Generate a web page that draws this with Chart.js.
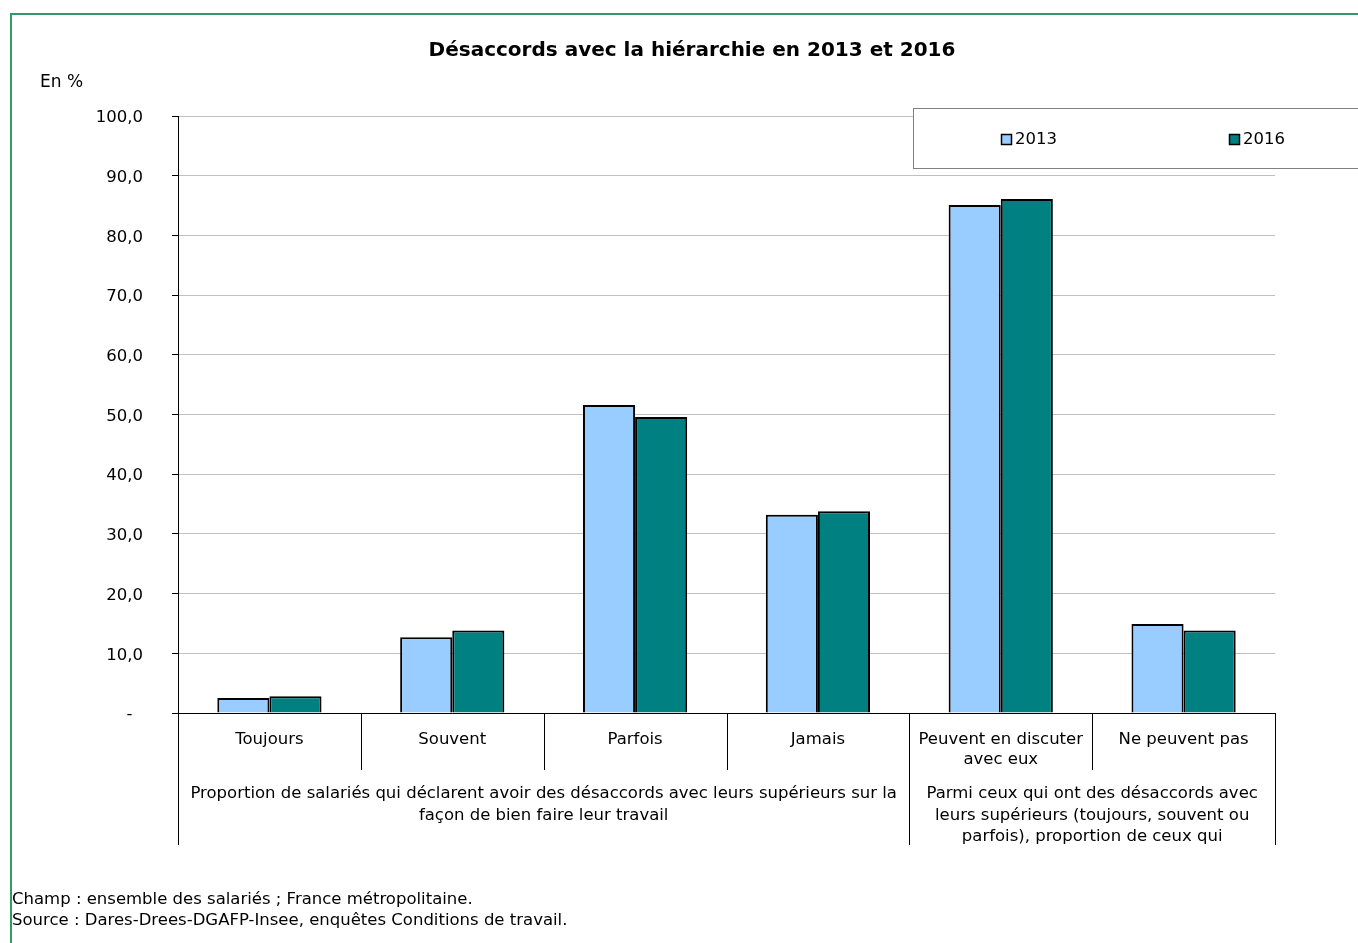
<!DOCTYPE html>
<html>
<head>
<meta charset="utf-8">
<script src="https://cdn.jsdelivr.net/npm/chart.js@4"></script>
<style>
body { margin: 0; background: #fff; }
#wrap { position: relative; width: 1358px; height: 943px; overflow: hidden; }
#frame { position: absolute; left: 10px; top: 13px; width: 1400px; height: 1000px; border: 2px solid #339966; }
canvas { position: absolute; left: 0; top: 0; }
.txt { position: absolute; font-family: "DejaVu Sans", sans-serif; color: #000; white-space: nowrap; }
</style>
</head>
<body>
<div id="wrap">
  <div id="frame"></div>
  <canvas id="chart" width="1358" height="943"></canvas>
  <div class="txt" style="left:0;width:1384px;top:36px;text-align:center;font-weight:bold;font-size:20px;line-height:26px;">Désaccords avec la hiérarchie en 2013 et 2016</div>
  <div class="txt" style="left:40px;top:70px;font-size:17px;line-height:22px;">En %</div>
  <div class="txt" style="left:12px;top:888px;font-size:16.5px;line-height:21px;">Champ : ensemble des salariés ; France métropolitaine.<br>Source : Dares-Drees-DGAFP-Insee, enquêtes Conditions de travail.</div>
</div>
<script>
//Categories and groups
const categories = ["Toujours", "Souvent", "Parfois", "Jamais", ["Peuvent en discuter", "avec eux"], "Ne peuvent pas"];
const groupLabels = [
    ["Proportion de salariés qui déclarent avoir des désaccords avec leurs supérieurs sur la", "façon de bien faire leur travail"],
    ["Parmi ceux qui ont des désaccords avec", "leurs supérieurs (toujours, souvent ou", "parfois), proportion de ceux qui"]
];
const groupSizes = [4, 2];

//Series values (en %)
const years = ["2013", "2016"];
const values2013 = [2.5, 12.7, 51.6, 33.2, 85.1, 14.9];
const values2016 = [2.8, 13.8, 49.6, 33.8, 86.1, 13.8];
const colors = ['#99ccff', '#008080'];

const font = "DejaVu Sans";
const fontSize = 16.5;

//Vertical separators under the axis + group labels
const groupPlugin = {
    id: 'groups',
    afterDraw(chart) {
        const x = chart.scales.x;
        const ctx = chart.ctx;
        const top = chart.chartArea.bottom;
        const half = (x.getPixelForValue(1) - x.getPixelForValue(0)) / 2;
        const bounds = [0];
        groupSizes.forEach(function (n) { bounds.push(bounds[bounds.length - 1] + n); });
        ctx.save();
        ctx.strokeStyle = '#000';
        ctx.lineWidth = 1;
        for (let i = 0; i <= categories.length; i++) {
            const px = Math.round(x.getPixelForValue(i) - half) + 0.5;
            const long = bounds.includes(i);
            ctx.beginPath();
            ctx.moveTo(px, top);
            ctx.lineTo(px, long ? top + 132 : top + 57);
            ctx.stroke();
        }
        ctx.fillStyle = '#000';
        ctx.font = fontSize + 'px "' + font + '"';
        ctx.textAlign = 'center';
        ctx.textBaseline = 'middle';
        groupLabels.forEach(function (lines, g) {
            const left = x.getPixelForValue(bounds[g]) - half;
            const right = x.getPixelForValue(bounds[g + 1]) - half;
            lines.forEach(function (line, j) {
                ctx.fillText(line, (left + right) / 2, top + 81 + j * 21.5);
            });
        });
        ctx.restore();
    }
};

//Boxed legend in the top right
const legendPlugin = {
    id: 'boxLegend',
    afterDraw(chart) {
        const ctx = chart.ctx;
        ctx.save();
        ctx.fillStyle = '#fff';
        ctx.strokeStyle = '#808080';
        ctx.lineWidth = 1;
        ctx.fillRect(913.5, 108.5, 500, 60);
        ctx.strokeRect(913.5, 108.5, 500, 60);
        const xs = [1001, 1229];
        ctx.font = fontSize + 'px "' + font + '"';
        ctx.textBaseline = 'middle';
        chart.data.datasets.forEach(function (ds, i) {
            ctx.fillStyle = ds.backgroundColor;
            ctx.fillRect(xs[i] + 0.5, 134.5, 10, 10);
            ctx.strokeStyle = '#000';
            ctx.lineWidth = 1.5;
            ctx.strokeRect(xs[i] + 0.5, 134.5, 10, 10);
            ctx.fillStyle = '#000';
            ctx.fillText(ds.label, xs[i] + 14, 140);
        });
        ctx.restore();
    }
};

const chart = new Chart(
    document.getElementById('chart'),
    {
        type: 'bar',
        data: {
            labels: categories,
            datasets: [{
                label: years[0],
                data: values2013,
                backgroundColor: colors[0],
                borderColor: '#000',
                borderWidth: 2,
            }, {
                label: years[1],
                data: values2016,
                backgroundColor: colors[1],
                borderColor: '#000',
                borderWidth: 2,
            }]
        },
        options: {
            responsive: false,
            animation: false,
            categoryPercentage: 0.57,
            barPercentage: 1.0,
            layout: {
                padding: { left: 0, top: 116, right: 83, bottom: 95 }
            },
            scales: {
                x: {
                    afterFit: function (scale) { scale.height = 135; },
                    grid: { display: false },
                    border: { color: '#000', width: 1 },
                    ticks: {
                        color: '#000',
                        font: { family: font, size: fontSize, lineHeight: 1.2 },
                        padding: 9,
                        maxRotation: 0,
                        autoSkip: false,
                    }
                },
                y: {
                    min: 0,
                    max: 100,
                    afterFit: function (scale) { scale.width = 178; },
                    grid: { color: '#c0c0c0', tickColor: '#000', tickLength: 6 },
                    border: { color: '#000', width: 1 },
                    ticks: {
                        stepSize: 10,
                        color: '#000',
                        padding: 29,
                        labelOffset: 2,
                        font: { family: font, size: fontSize },
                        callback: function (v) { return v === 0 ? '-  ' : v.toFixed(1).replace('.', ','); }
                    }
                }
            },
            plugins: {
                legend: { display: false },
                tooltip: { enabled: false },
            },
        },
        plugins: [groupPlugin, legendPlugin]
    }
);
</script>
</body>
</html>
